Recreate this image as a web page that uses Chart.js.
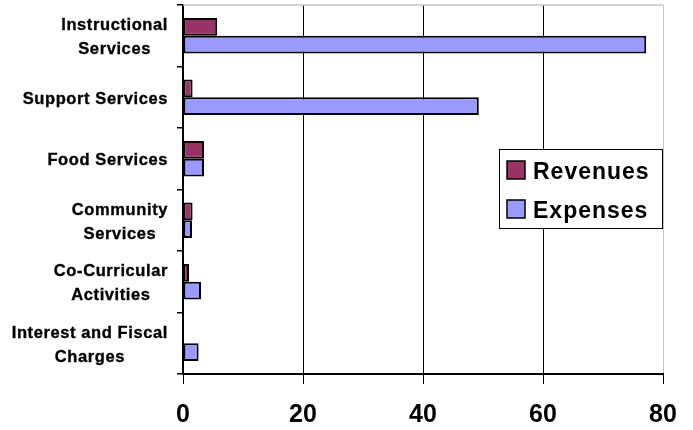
<!DOCTYPE html>
<html>
<head>
<meta charset="utf-8">
<script src="https://cdn.jsdelivr.net/npm/chart.js@4/dist/chart.umd.min.js"></script>
<style>
  html, body { margin: 0; padding: 0; background: #ffffff; }
  canvas { display: block; }
</style>
</head>
<body>
<canvas id="chart" width="693" height="430"></canvas>
<script>
// Functional categories (each label split into its display lines)
const categories = [
  ['Instructional', 'Services'],
  ['Support Services'],
  ['Food Services'],
  ['Community', 'Services'],
  ['Co-Curricular', 'Activities'],
  ['Interest and Fiscal', 'Charges']
];
const revenues = [5.7, 1.6, 3.5, 1.6, 1.0, 0];
const expenses = [77.2, 49.3, 3.5, 1.5, 3.0, 2.6];
const xTicks = [0, 20, 40, 60, 80];

const FONT = "'Liberation Sans', Arial, sans-serif";

// Category labels: each block right-aligned to the axis, its lines centred on each other
const categoryLabels = {
  id: 'categoryLabels',
  afterDraw(chart) {
    const ctx = chart.ctx;
    const y = chart.scales.y;
    const right = chart.chartArea.left - 15;
    ctx.save();
    ctx.font = 'bold 16.5px ' + FONT;
    ctx.letterSpacing = '0.6px';
    ctx.fillStyle = '#000';
    ctx.strokeStyle = '#000';
    ctx.lineWidth = 0.35;
    ctx.textAlign = 'center';
    ctx.textBaseline = 'alphabetic';
    categories.forEach((lines, i) => {
      const cy = y.getPixelForTick(i) + 0.5;
      const w = Math.max(...lines.map(l => ctx.measureText(l).width));
      const cx = right - w / 2;
      const lineH = 24;
      const first = cy - (lines.length - 1) * lineH / 2;
      lines.forEach((l, k) => {
        ctx.fillText(l, cx, first + k * lineH + 5.9);
        ctx.strokeText(l, cx, first + k * lineH + 5.9);
      });
    });
    ctx.restore();
  }
};

// Light frame along the top of the plot area
const plotFrame = {
  id: 'plotFrame',
  beforeDatasetsDraw(chart) {
    const { ctx, chartArea: a } = chart;
    ctx.save();
    ctx.strokeStyle = '#c4c4c4';
    ctx.lineWidth = 1.5;
    ctx.beginPath();
    ctx.moveTo(a.left, a.top);
    ctx.lineTo(a.right, a.top);
    ctx.stroke();
    ctx.restore();
  }
};

// Boxed legend inside the plot area
const boxLegend = {
  id: 'boxLegend',
  afterDraw(chart) {
    const ctx = chart.ctx;
    const a = chart.chartArea;
    const bx = a.right - 164, by = 149, bw = 164, bh = 80;
    ctx.save();
    ctx.fillStyle = '#fff';
    ctx.fillRect(bx, by, bw, bh);
    ctx.strokeStyle = '#000';
    ctx.lineWidth = 1;
    ctx.strokeRect(bx + 0.5, by + 0.5, bw - 1, bh - 1);
    ctx.font = 'bold 23px ' + FONT;
    ctx.letterSpacing = '1px';
    ctx.textBaseline = 'alphabetic';
    ctx.textAlign = 'left';
    chart.data.datasets.forEach((ds, i) => {
      const sy = by + 12 + i * 39;
      ctx.fillStyle = ds.backgroundColor;
      ctx.fillRect(bx + 8, sy, 18, 18);
      ctx.strokeStyle = '#000';
      ctx.lineWidth = 1.5;
      ctx.strokeRect(bx + 8, sy, 18, 18);
      ctx.fillStyle = '#000';
      ctx.fillText(ds.label, bx + 34, sy + 17.5);
    });
    ctx.restore();
  }
};

new Chart(document.getElementById('chart'), {
  type: 'bar',
  data: {
    labels: categories.map(c => c.join(' ')),
    datasets: [
      {
        label: 'Revenues',
        data: revenues,
        backgroundColor: '#993366',
        borderColor: '#000',
        borderWidth: 2,
        borderSkipped: false
      },
      {
        label: 'Expenses',
        data: expenses,
        backgroundColor: '#9999ff',
        borderColor: '#000',
        borderWidth: 2,
        borderSkipped: false
      }
    ]
  },
  options: {
    indexAxis: 'y',
    responsive: false,
    animation: false,
    devicePixelRatio: 1,
    layout: { padding: { top: 5, right: 30, left: 0, bottom: 0 } },
    datasets: { bar: { categoryPercentage: 0.58, barPercentage: 1.0 } },
    plugins: {
      legend: { display: false },
      tooltip: { enabled: false }
    },
    scales: {
      x: {
        type: 'linear',
        min: 0,
        max: 80,
        afterBuildTicks: s => { s.ticks = xTicks.map(v => ({ value: v })); },
        afterFit: s => { s.height = 56; },
        ticks: {
          color: '#000',
          font: { family: FONT, size: 25, weight: 'bold' },
          padding: 16,
          maxRotation: 0
        },
        grid: {
          color: c => (c.tick && c.tick.value === 80) ? '#c4c4c4' : '#000',
          tickColor: '#000',
          lineWidth: 1,
          tickLength: 10
        },
        border: { display: true, color: '#000', width: 2 }
      },
      y: {
        type: 'category',
        afterFit: s => { s.width = 183; },
        ticks: { display: false },
        grid: {
          offset: true,
          drawOnChartArea: false,
          drawTicks: true,
          tickLength: 6,
          color: '#000',
          lineWidth: 1.5
        },
        border: { display: true, color: '#000', width: 2 }
      }
    }
  },
  plugins: [plotFrame, categoryLabels, boxLegend]
});
</script>
</body>
</html>
